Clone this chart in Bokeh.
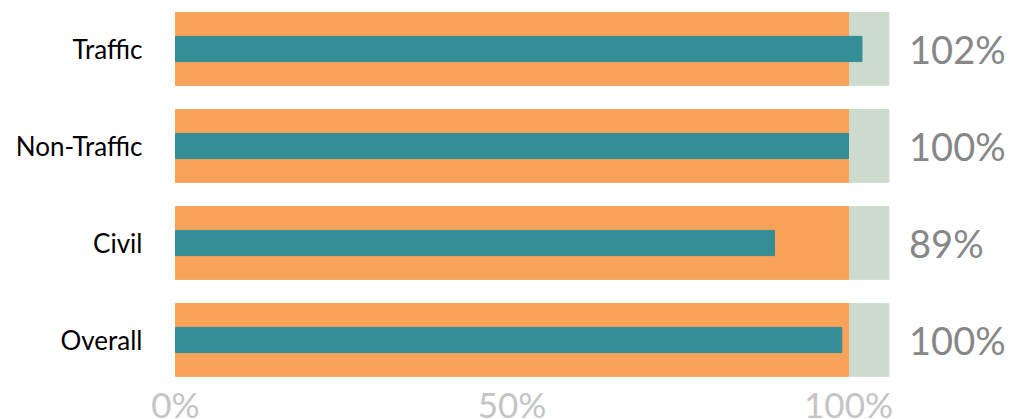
from bokeh.plotting import figure
from bokeh.models import Range1d, FixedTicker, ColumnDataSource
from bokeh.core.properties import value
from bokeh.embed import file_html
from bokeh.resources import INLINE

categories = ["Traffic", "Non-Traffic", "Civil", "Overall"]
actual = [102, 100, 89, 99]
target = [100, 100, 100, 100]
upper = [106, 106, 106, 106]
value_labels = ["102%", "100%", "89%", "100%"]
x_ticks = [0, 50, 100]
x_tick_labels = ["0%", "50%", "100%"]

ypos = [len(categories) - 1 - i for i in range(len(categories))]

src = ColumnDataSource(dict(y=ypos, actual=actual, target=target, upper=upper,
                            lab=value_labels, lx=[109] * len(categories)))

FONT = "Lato"

p = figure(width=1010, height=419, output_backend="svg", toolbar_location=None,
           x_range=Range1d(-26.003, 124.07), y_range=Range1d(-0.8196, 3.5),
           min_border_left=0, min_border_right=0, min_border_top=0, min_border_bottom=0)
p.outline_line_color = None
p.xgrid.visible = False
p.ygrid.visible = False
p.background_fill_color = "white"

p.hbar(y="y", left=0, right="upper", height=0.75, color="#CCDBCC", source=src)
p.hbar(y="y", left=0, right="target", height=0.75, color="#F9A35A", source=src)
p.hbar(y="y", left=0, right="actual", height=0.26, color="#358D96", source=src)
p.text(x="lx", y="y", text="lab", source=src, text_font=value(FONT),
       text_font_size="38px", text_color="#878787", text_baseline="middle", text_align="left")

p.yaxis.ticker = FixedTicker(ticks=ypos)
p.yaxis.major_label_overrides = {y: c for y, c in zip(ypos, categories)}
p.yaxis.fixed_location = 0
p.yaxis.axis_line_color = None
p.yaxis.major_tick_line_color = None
p.yaxis.minor_tick_line_color = None
p.yaxis.major_label_standoff = 27
p.yaxis.major_label_text_font = FONT
p.yaxis.major_label_text_font_size = "26px"
p.yaxis.major_label_text_color = "black"

p.xaxis.ticker = FixedTicker(ticks=x_ticks)
p.xaxis.major_label_overrides = {t: l for t, l in zip(x_ticks, x_tick_labels)}
p.xaxis.fixed_location = -0.375
p.xaxis.axis_line_color = None
p.xaxis.major_tick_line_color = None
p.xaxis.minor_tick_line_color = None
p.xaxis.major_label_standoff = 1
p.xaxis.major_label_text_font = FONT
p.xaxis.major_label_text_font_size = "35px"
p.xaxis.major_label_text_color = "#C4C4C4"

open("out.html", "w").write(file_html(p, INLINE))
